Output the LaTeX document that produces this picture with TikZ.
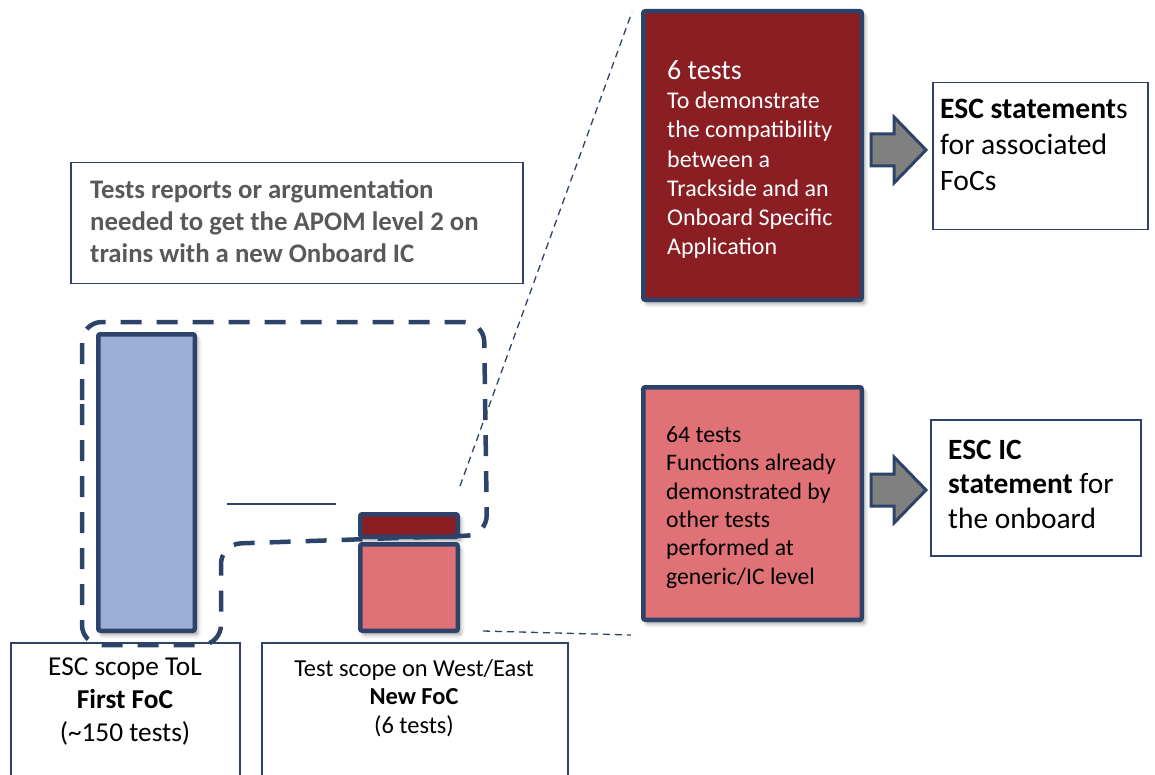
\documentclass[tikz,border=0pt]{standalone}
\usepackage{fontspec}
\setmainfont{Carlito}
\usetikzlibrary{shadows.blur}
\definecolor{navy}{HTML}{2E4369}
\definecolor{barblue}{HTML}{9BAED5}
\definecolor{darkred}{HTML}{8A1E23}
\definecolor{pinkred}{HTML}{E07177}
\definecolor{graytext}{HTML}{595959}
\definecolor{arrowgray}{HTML}{808080}
\tikzset{
  bar/.style={draw=navy, line width=4.5pt, rounded corners=2pt, inner sep=0pt,
    blur shadow={shadow xshift=3pt, shadow yshift=-4pt, shadow blur radius=4pt, shadow opacity=40}},
  labelbox/.style={draw=navy, line width=1.5pt, inner sep=0pt},
  boxtext/.style={inner sep=0pt, align=left, anchor=north west},
  zoomline/.style={draw=navy, line width=1.3pt, dash pattern=on 7pt off 5pt},
  scopeline/.style={draw=navy, line width=4.5pt, dash pattern=on 21pt off 15pt, rounded corners=20pt},
  blockarrow/.style={draw=navy, fill=arrowgray, line width=3pt, line join=miter},
}
\begin{document}
\begin{tikzpicture}[x=1pt,y=-1pt]
\useasboundingbox (0,0) rectangle (1155,775);
\clip (0,0) rectangle (1155,775);

% requirement text box
\node[labelbox, minimum width=452pt, minimum height=121pt, anchor=north west] (req) at (70,162) {};
\node[boxtext, text=graytext, font=\bfseries\fontsize{26.8}{32}\selectfont] (reqtext) at (90,179)
  {Tests reports or argumentation\\needed to get the APOM level 2 on\\trains with a new Onboard IC};

% bars
\node[bar, fill=barblue, minimum width=96.5pt, minimum height=296.5pt] (bluebar) at (146.5,482.5) {};
\node[bar, fill=darkred, minimum width=97.5pt, minimum height=22.5pt] (redbar) at (409,525.5) {};
\node[bar, fill=pinkred, minimum width=97.5pt, minimum height=86.5pt] (pinkbar) at (409,587.5) {};

% thin solid line
\coordinate (lineA) at (227,504);
\coordinate (lineB) at (336,504);
\draw[navy, line width=1.3pt] (lineA) -- (lineB);

% big boxes
\node[bar, fill=darkred, minimum width=218.5pt, minimum height=288.5pt] (redbox) at (752.5,155.5) {};
\node[boxtext, text=white, font=\fontsize{24}{29.3}\selectfont] (redtext) at (667,60)
  {{\fontsize{28}{29.3}\selectfont 6 tests}\\To demonstrate\\the compatibility\\between a\\Trackside and an\\Onboard Specific\\Application};

\node[bar, fill=pinkred, minimum width=218.5pt, minimum height=232.5pt] (pinkbox) at (752.5,503.5) {};
\node[boxtext, text=black, font=\fontsize{23.7}{28.4}\selectfont] (pinktext) at (666,426)
  {64 tests\\Functions already\\demonstrated by\\other tests\\performed at\\generic/IC level};

% zoom lines
\coordinate (z1a) at (460,486);
\coordinate (z1b) at (632,12);
\coordinate (z2a) at (483,631);
\coordinate (z2b) at (631,635);
\draw[zoomline] (z1a) -- (z1b);
\draw[zoomline] (z2a) -- (z2b);

% block arrows
\draw[blockarrow] (871,134) -- (894,134) -- (894,117) -- (926,150) -- (894,183) -- (894,166) -- (871,166) -- cycle;
\draw[blockarrow] (871,474) -- (894,474) -- (894,457) -- (926,490) -- (894,523) -- (894,506) -- (871,506) -- cycle;

% statement boxes
\node[labelbox, minimum width=215pt, minimum height=147pt, anchor=north west] (stmt1) at (932,82) {};
\node[boxtext, font=\fontsize{29.6}{36}\selectfont] (stmt1text) at (940,99)
  {{\bfseries ESC statement}s\\for associated\\FoCs};
\node[labelbox, minimum width=210pt, minimum height=136pt, anchor=north west] (stmt2) at (930,419) {};
\node[boxtext, font=\fontsize{29.4}{34.5}\selectfont] (stmt2text) at (948,440)
  {{\bfseries ESC IC}\\{\bfseries statement} for\\the onboard};

% bottom label boxes
\node[labelbox, minimum width=229pt, minimum height=170pt, anchor=north west] (lab1) at (10,642) {};
\node[inner sep=0pt, align=center, anchor=north, font=\fontsize{27.3}{33}\selectfont] (lab1text) at (125,658)
  {ESC scope ToL\\\textbf{First FoC}\\(\textasciitilde150 tests)};
\node[labelbox, minimum width=306pt, minimum height=170pt, anchor=north west] (lab2) at (261,642) {};
\node[inner sep=0pt, align=center, anchor=north, font=\fontsize{24.4}{28.5}\selectfont] (lab2text) at (414,659)
  {Test scope on West/East\\\textbf{New FoC}\\(6 tests)};

% dashed scope outline
\draw[scopeline] (82,420) -- (82,322) -- (484,322) -- (487,535) -- (221,544) -- (221,645) -- (82,645) -- cycle;

\end{tikzpicture}
\end{document}
